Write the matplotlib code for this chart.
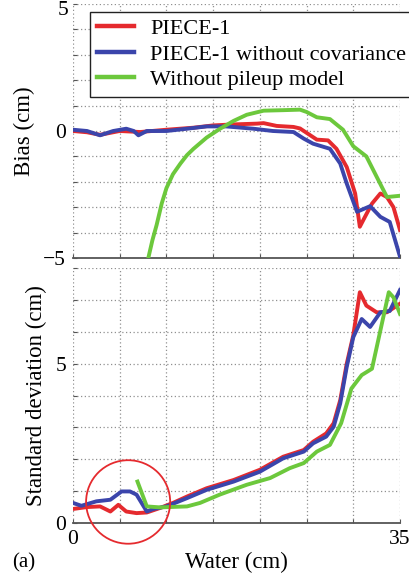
import matplotlib
matplotlib.use("Agg")
import matplotlib.pyplot as plt
import matplotlib.transforms as mtransforms
from matplotlib.patches import Ellipse

plt.rcParams['font.family'] = ['Liberation Serif', 'DejaVu Serif']

RED = '#e52a2e'
BLUE = '#3b45ab'
GREEN = '#6cc83c'

# Bias (cm) versus water thickness (cm)
bias_red_x = [0, 1.5, 2.9, 5.0, 7.2, 10.0, 12.9, 15.0, 17.2, 19.7, 20.4, 21.8, 23.6, 24.3,
              25.4, 26.1, 27.3, 28.2, 29.3, 30.2, 30.7, 31.25, 32.0, 32.9, 33.6, 34.3, 35.0]
bias_red_y = [0.0, -0.05, -0.15, 0.0, -0.04, 0.05, 0.13, 0.22, 0.26, 0.29, 0.31, 0.2, 0.16, 0.1,
              -0.17, -0.34, -0.37, -0.7, -1.42, -2.46, -3.77, -3.38, -2.86, -2.46, -2.6, -3.0, -3.9]

bias_blue_x = [0, 1.5, 2.9, 4.3, 5.7, 6.5, 7.0, 7.9, 10.0, 12.2, 14.3, 16.4, 19.3, 21.4, 23.6,
               24.7, 25.7, 27.5, 28.6, 29.3, 30.4, 31.8, 32.9, 33.9, 35.0]
bias_blue_y = [0.05, 0.0, -0.17, 0.0, 0.09, 0.0, -0.17, 0.0, 0.0, 0.09, 0.18, 0.18, 0.09, 0.0, -0.04,
               -0.3, -0.5, -0.7, -1.28, -2.07, -3.18, -2.96, -3.38, -3.58, -4.95]

bias_green_x = [8.06, 8.5, 8.95, 9.5, 10.0, 10.7, 11.5, 12.2, 12.9, 14.3, 15.7, 17.2, 18.6, 20.4,
                22.5, 24.3, 25.0, 26.1, 27.5, 28.9, 30.0, 31.4, 32.5, 33.6, 35.0]
bias_green_y = [-5.0, -4.3, -3.7, -2.85, -2.25, -1.7, -1.28, -0.95, -0.7, -0.26, 0.08, 0.4, 0.64,
                0.8, 0.82, 0.84, 0.75, 0.54, 0.47, 0.05, -0.6, -1.0, -1.8, -2.6, -2.55]

# Standard deviation (cm) versus water thickness (cm)
sd_red_x = [0, 1.5, 2.9, 4.0, 4.85, 5.7, 6.8, 7.9, 9.3, 10.7, 12.2, 14.3, 17.2, 20.0, 22.5,
            24.7, 25.7, 27.1, 27.9, 28.6, 29.3, 30.0, 30.7, 31.4, 32.5, 33.6, 35.0]
sd_red_y = [0.44, 0.5, 0.52, 0.36, 0.57, 0.36, 0.31, 0.33, 0.47, 0.63, 0.83, 1.09, 1.35, 1.67, 2.08,
            2.29, 2.55, 2.81, 3.13, 3.85, 5.0, 5.89, 7.24, 6.82, 6.61, 6.61, 6.88]

sd_blue_x = [0, 0.9, 2.5, 4.0, 5.2, 6.1, 6.8, 7.9, 8.6, 10.0, 12.2, 14.3, 17.2, 20.0, 22.5,
             24.7, 25.7, 27.1, 27.9, 28.6, 29.3, 30.0, 30.9, 31.8, 32.9, 33.9, 35.0]
sd_blue_y = [0.63, 0.54, 0.68, 0.73, 0.99, 0.99, 0.89, 0.36, 0.44, 0.52, 0.78, 1.04, 1.3, 1.61, 2.03,
             2.24, 2.5, 2.71, 3.02, 3.75, 4.9, 5.83, 6.4, 6.15, 6.61, 6.65, 7.31]

sd_green_x = [6.9, 7.9, 9.3, 12.2, 13.6, 15.7, 18.6, 21.1, 23.2, 24.7, 26.1, 27.5, 28.7, 29.8,
              30.9, 32.0, 32.9, 33.8, 34.3, 35.0]
sd_green_y = [1.3, 0.52, 0.49, 0.52, 0.63, 0.89, 1.2, 1.41, 1.72, 1.88, 2.24, 2.45, 3.13, 4.22,
              4.64, 4.84, 6.04, 7.24, 7.08, 6.56]

series_labels = ['PIECE-1', 'PIECE-1 without covariance', 'Without pileup model']

fig = plt.figure(figsize=(4.10, 5.76), dpi=100)
W, H = 410.0, 576.0
ax1 = fig.add_axes([73 / W, 1 - 258 / H, 327 / W, 254 / H])
ax2 = fig.add_axes([73 / W, 1 - 523 / H, 327 / W, 255 / H])

LW = 2.8
TICK_FS = 15.5
LABEL_FS = 16.5


def style_axes(ax):
    for side in ('left', 'right', 'top'):
        ax.spines[side].set_visible(False)
    ax.spines['bottom'].set_color('#555555')
    ax.spines['bottom'].set_linewidth(1.3)
    ax.grid(True, which='major', linestyle=(0, (1, 2)), color='#909090', linewidth=0.9)
    ax.tick_params(direction='in', length=3, width=0.8, color='#555555',
                   labelsize=TICK_FS, pad=5)
    ax.set_xlim(0, 35)
    ax.set_xticks(range(0, 36, 5))
    ax.set_axisbelow(True)


# Top panel: bias
style_axes(ax1)
ax1.plot(bias_red_x, bias_red_y, color=RED, lw=LW, label=series_labels[0], zorder=3)
ax1.plot(bias_blue_x, bias_blue_y, color=BLUE, lw=LW, label=series_labels[1], zorder=3)
ax1.plot(bias_green_x, bias_green_y, color=GREEN, lw=LW, label=series_labels[2], zorder=3)
ax1.set_ylim(-5, 5)
ax1.set_yticks(range(-5, 6))
ax1.set_yticklabels(['\u22125' if v == -5 else ('0' if v == 0 else '') for v in range(-5, 6)])
ax1.set_xticklabels([])
ax1.set_ylabel('Bias (cm)', fontsize=LABEL_FS, labelpad=6)
# The top label sits just inside the figure edge
lbl_tr = mtransforms.blended_transform_factory(ax1.transAxes, ax1.transData) + \
    mtransforms.ScaledTranslation(-5 / 100, 3 / 100, fig.dpi_scale_trans)
ax1.text(0, 5, '5', transform=lbl_tr, ha='right', va='top', fontsize=TICK_FS)

leg = ax1.legend(loc='upper left', bbox_to_anchor=(17 / 327, 1 - 8 / 254), fontsize=16,
                 frameon=True, fancybox=False, edgecolor='#222222', framealpha=1,
                 handlelength=1.7, handletextpad=0.7, borderpad=0.3, labelspacing=0.22,
                 borderaxespad=0)
leg.get_frame().set_linewidth(1.0)
for line in leg.get_lines():
    line.set_linewidth(3.2)

# Bottom panel: standard deviation
style_axes(ax2)
ax2.plot(sd_red_x, sd_red_y, color=RED, lw=LW, zorder=3)
ax2.plot(sd_blue_x, sd_blue_y, color=BLUE, lw=LW, zorder=3)
ax2.plot(sd_green_x, sd_green_y, color=GREEN, lw=LW, zorder=3)
ax2.set_ylim(0, 8)
ax2.set_yticks(range(0, 9))
ax2.set_yticklabels(['0' if v == 0 else ('5' if v == 5 else '') for v in range(0, 9)])
ax2.set_xticklabels(['0' if v == 0 else ('35' if v == 35 else '') for v in range(0, 36, 5)])
ax2.set_ylabel('Standard deviation (cm)', fontsize=LABEL_FS, labelpad=6)
ax2.set_xlabel('Water (cm)', fontsize=LABEL_FS, labelpad=2)

# Highlight of the low-thickness region
ax2.add_patch(Ellipse((5.9, 0.66), 9.0, 2.62, fill=False, edgecolor=RED, lw=1.3,
                      clip_on=False, zorder=4))

fig.text(12 / W, 1 - 563 / H, '(a)', fontsize=15, va='center', ha='left')

fig.savefig('out.png', dpi=100)
